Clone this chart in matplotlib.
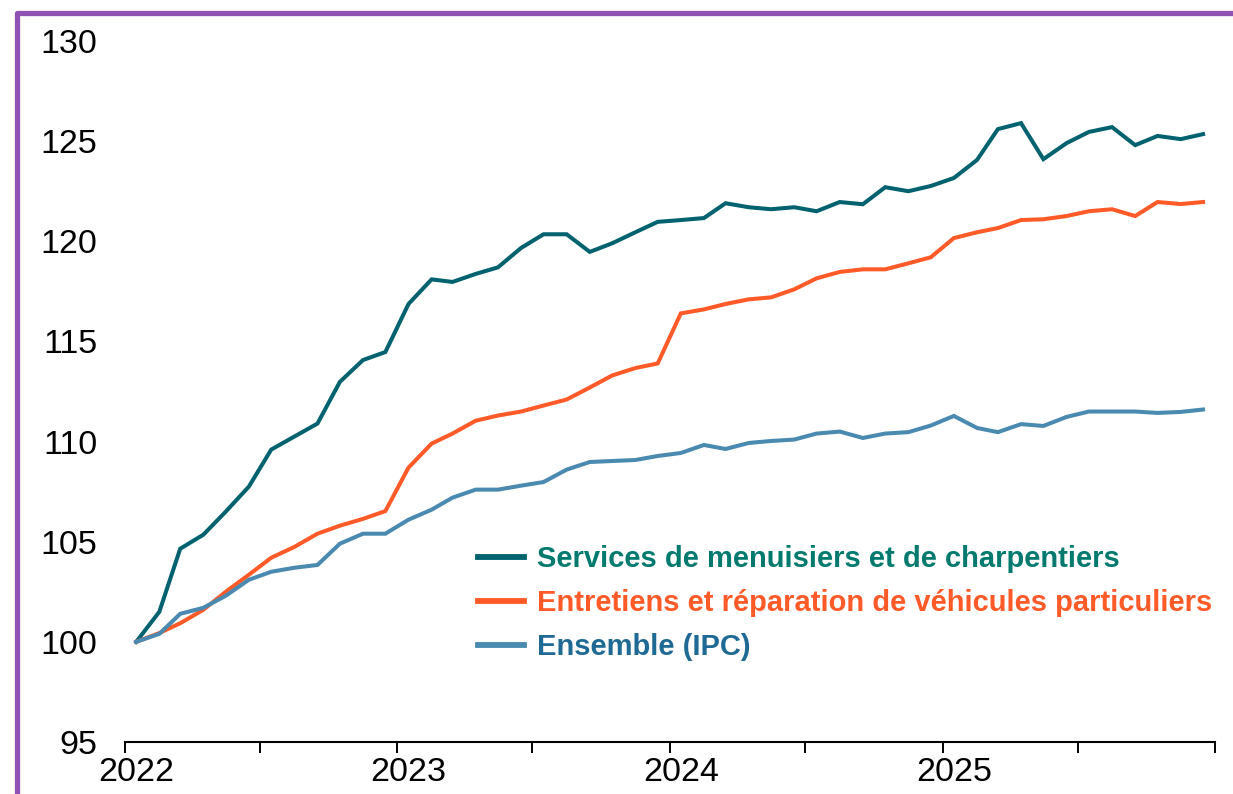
import matplotlib
matplotlib.use("Agg")
import matplotlib.pyplot as plt
from matplotlib.lines import Line2D
import pandas as pd

months = pd.date_range("2022-01-01", periods=48, freq="MS")

services = [100.0, 101.5, 104.65, 105.35, 106.5, 107.75, 109.6, 110.25, 110.9, 112.98, 114.07, 114.47,
            116.87, 118.1, 117.97, 118.37, 118.7, 119.67, 120.35, 120.35, 119.47, 119.9, 120.45, 120.97,
            121.06, 121.16, 121.9, 121.7, 121.6, 121.7, 121.5, 121.96, 121.85, 122.7, 122.5, 122.76,
            123.16, 124.06, 125.6, 125.9, 124.1, 124.9, 125.46, 125.7, 124.8, 125.26, 125.1, 125.35]
entretiens = [100.0, 100.44, 100.93, 101.6, 102.5, 103.35, 104.2, 104.74, 105.4, 105.8, 106.14, 106.53,
              108.7, 109.9, 110.4, 111.04, 111.3, 111.5, 111.8, 112.1, 112.7, 113.3, 113.67, 113.9,
              116.4, 116.6, 116.87, 117.1, 117.2, 117.6, 118.15, 118.47, 118.6, 118.6, 118.9, 119.2,
              120.16, 120.45, 120.66, 121.06, 121.1, 121.26, 121.5, 121.6, 121.26, 121.96, 121.86, 121.96]
ensemble = [100.0, 100.4, 101.4, 101.7, 102.3, 103.1, 103.5, 103.7, 103.84, 104.9, 105.4, 105.4,
            106.1, 106.6, 107.2, 107.6, 107.6, 107.8, 107.98, 108.6, 108.98, 109.03, 109.08, 109.28,
            109.43, 109.83, 109.63, 109.93, 110.03, 110.1, 110.4, 110.5, 110.18, 110.4, 110.47, 110.8,
            111.28, 110.68, 110.47, 110.87, 110.78, 111.23, 111.5, 111.5, 111.5, 111.43, 111.48, 111.6]

labels = ["Services de menuisiers et de charpentiers",
          "Entretiens et réparation de véhicules particuliers",
          "Ensemble (IPC)"]
line_colors = ["#00626E", "#FF5A28", "#4A89B0"]
text_colors = ["#007A6E", "#FF5A28", "#1F6A94"]
years = [2022, 2023, 2024, 2025]

plt.rcParams["font.family"] = ["Liberation Sans", "DejaVu Sans"]

fig = plt.figure(figsize=(12.33, 7.94), dpi=100)
ax = fig.add_axes([125/1233, 52/794, 1090/1233, 701/794])

x = months + pd.Timedelta(days=15)
for vals, lab, col in zip([services, entretiens, ensemble], labels, line_colors):
    ax.plot(x, vals, color=col, lw=2.9, label=lab, solid_joinstyle="miter")

ax.set_ylim(95, 130)
ax.set_yticks(range(95, 131, 5))
ax.set_xlim(pd.Timestamp("2022-01-01"), pd.Timestamp("2026-01-01"))

ax.set_xticks([pd.Timestamp(f"{y}-01-16") for y in years])
ax.set_xticklabels([str(y) for y in years])
ax.set_xticks([pd.Timestamp(f"{y}-{m:02d}-01") for y in range(2022, 2026) for m in (1, 7)]
              + [pd.Timestamp("2026-01-01")], minor=True)
ax.tick_params(axis="x", which="major", length=0, labelsize=24.5, pad=11, colors="black")
ax.tick_params(axis="x", which="minor", length=8, width=1.4, direction="out", color="black")
ax.tick_params(axis="y", which="both", length=0, labelsize=24.5, pad=20)

for s in ["top", "right", "left"]:
    ax.spines[s].set_visible(False)
ax.spines["bottom"].set_linewidth(1.5)

leg = ax.legend(loc="upper left", bbox_to_anchor=(0.324, 0.281), frameon=False,
                borderpad=0, borderaxespad=0, handlelength=1.58, handletextpad=0.45,
                labelspacing=0.55, prop={"size": 21, "weight": "bold"})
for t, c in zip(leg.get_texts(), text_colors):
    t.set_color(c)
for h in leg.get_lines():
    h.set_linewidth(4.2)

# purple frame (top and left)
fig.add_artist(Line2D([16.5/1233, 16.5/1233, 1.0], [0.0, 1 - 12.5/794, 1 - 12.5/794],
                      transform=fig.transFigure, color="#9053B4", lw=3.8,
                      solid_joinstyle="round", solid_capstyle="butt"))

fig.savefig("out.png", dpi=100)
